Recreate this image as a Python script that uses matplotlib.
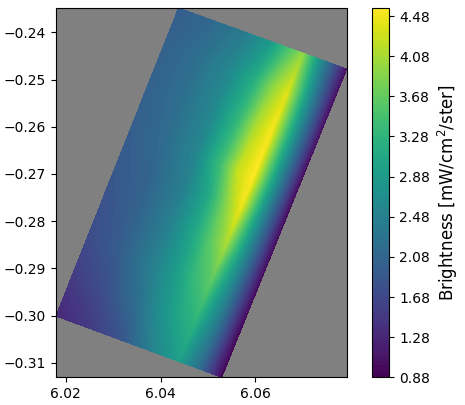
import numpy as np
import matplotlib
matplotlib.use("Agg")
import matplotlib.pyplot as plt
from matplotlib.ticker import FormatStrFormatter

# Footprint corners (lon, lat)
corner_left = (6.01795, -0.30011)
corner_bottom = (6.05291, -0.31309)
corner_right = (6.07928, -0.24778)
corner_top = (6.04380, -0.23485)

# Fractional grid positions across (left side -> right side) and along (bottom -> top)
u_nodes = [0.0, 0.2, 0.4, 0.55, 0.65, 0.74, 0.86, 1.0]
v_nodes = [0.0, 0.125, 0.25, 0.375, 0.5, 0.6, 0.75, 0.875, 1.0]

# Brightness values (rows: v_nodes, cols: u_nodes)
brightness = [
    [1.30, 1.50, 1.85, 2.40, 2.70, 2.95, 2.20, 0.90],
    [1.50, 1.75, 2.20, 2.75, 3.05, 3.25, 2.35, 0.90],
    [1.70, 1.95, 2.45, 2.95, 3.35, 3.60, 2.50, 0.95],
    [1.80, 2.00, 2.45, 3.05, 3.60, 4.05, 2.65, 0.95],
    [1.90, 2.05, 2.45, 3.10, 3.85, 4.45, 2.75, 0.95],
    [1.95, 2.15, 2.55, 3.45, 4.25, 4.55, 2.85, 0.95],
    [2.00, 2.20, 2.60, 3.35, 4.10, 4.50, 2.85, 1.00],
    [2.00, 2.20, 2.60, 3.20, 3.90, 4.35, 2.75, 1.00],
    [1.95, 2.10, 2.40, 2.85, 3.45, 3.95, 2.50, 1.00],
]

level_min = 0.88
level_max = 4.56
n_levels = 93
tick_every = 10
cbar_label = "Brightness [mW/cm$^2$/ster]"
x_ticks = [6.02, 6.04, 6.06]

U, V = np.meshgrid(np.array(u_nodes), np.array(v_nodes))
L = np.array(corner_left); B = np.array(corner_bottom)
R = np.array(corner_right); T = np.array(corner_top)
X = ((1 - U) * (1 - V) * L[0] + U * (1 - V) * B[0] + U * V * R[0] + (1 - U) * V * T[0])
Y = ((1 - U) * (1 - V) * L[1] + U * (1 - V) * B[1] + U * V * R[1] + (1 - U) * V * T[1])
Z = np.array(brightness)

levels = np.linspace(level_min, level_max, n_levels)

W, H = 465, 405
fig = plt.figure(figsize=(W / 100, H / 100), dpi=100)
ax = fig.add_axes([56 / W, (H - 377.3) / H, 290.7 / W, 369.3 / H])
ax.set_facecolor("#808080")
cs = ax.contourf(X, Y, Z, levels=levels, cmap="viridis")
ax.set_xlim(X.min(), X.max())
ax.set_ylim(Y.min(), Y.max())
ax.set_xticks(x_ticks)

cax = fig.add_axes([371.7 / W, (H - 377.3) / H, 17.6 / W, 369.3 / H])
cb = fig.colorbar(cs, cax=cax)
cb.set_ticks(levels[::tick_every])
cb.ax.yaxis.set_major_formatter(FormatStrFormatter("%.2f"))
cb.set_label(cbar_label, fontsize=12)

fig.savefig("out.png", dpi=100)
